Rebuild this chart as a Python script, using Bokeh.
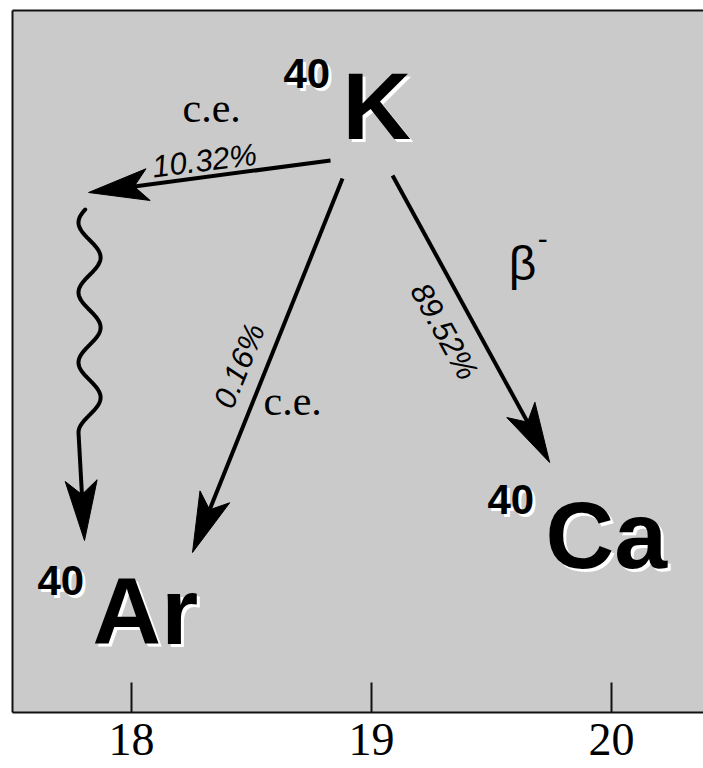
import numpy as np
from bokeh.plotting import figure
from bokeh.models import Range1d, LinearAxis, FixedTicker
from bokeh.core.properties import value
from bokeh.embed import file_html
from bokeh.resources import INLINE

# ---- data (x = atomic number Z, y = energy level in chart units) ----
tick_values = [18, 19, 20]
tick_labels = ["18", "19", "20"]

nuclide_symbol = ["K", "Ar", "Ca"]
nuclide_mass = ["40", "40", "40"]
symbol_x = [18.879, 17.8375, 19.725]
symbol_y = [574, 69, 145]
mass_x = [18.633, 17.608, 19.483]
mass_y = [625, 118, 199]

# straight decay arrows: start -> tip
arrow_x0 = [18.829, 18.879, 19.0875]
arrow_y0 = [552, 534, 537]
arrow_x1 = [17.821, 18.254, 19.742]
arrow_y1 = [520, 160, 250]

# gamma (wavy) de-excitation arrow
gamma_x = 17.825
gamma_amp = 0.046
gamma_period = 70
gamma_phase_y = 455
gamma_top = 503
gamma_wave_end = 280
gamma_tip_x = 17.804
gamma_tip_y = 172

# annotations
label_text = ["c.e.", "c.e.", "\u03b2"]
label_x = [18.2125, 18.55, 19.572]
label_y = [590, 297, 433]

pct_text = ["10.32%", "0.16%", "89.52%"]
pct_x = [18.092, 18.421, 19.158]
pct_y = [535, 302, 422]
pct_angle = [7, 68, -61]

PX_X = 240.0  # px per Z unit
HEAD_L, HEAD_W, HEAD_NOTCH = 60.0, 32.0, 14.0
BASE_FIX = 0.34  # em shift to put the alphabetic baseline on the anchor


def arrow_head(xs, ys, xt, yt):
    """Barbed head polygon at (xt, yt) pointing away from (xs, ys)."""
    sx, sy = xs * PX_X, ys
    tx, ty = xt * PX_X, yt
    dx, dy = tx - sx, ty - sy
    n = np.hypot(dx, dy)
    ux, uy = dx / n, dy / n
    px, py = -uy, ux
    pts = [
        (tx, ty),
        (tx - HEAD_L * ux + HEAD_W / 2 * px, ty - HEAD_L * uy + HEAD_W / 2 * py),
        (tx - (HEAD_L - HEAD_NOTCH) * ux, ty - (HEAD_L - HEAD_NOTCH) * uy),
        (tx - HEAD_L * ux - HEAD_W / 2 * px, ty - HEAD_L * uy - HEAD_W / 2 * py),
    ]
    hx = [p[0] / PX_X for p in pts]
    hy = [p[1] for p in pts]
    notch = (pts[2][0] / PX_X, pts[2][1])
    return hx, hy, notch


def fix(xs, ys, size, angles=None, dxp=0.0, dyp=0.0):
    if angles is None:
        angles = [0] * len(xs)
    ox, oy = [], []
    for x, y, a in zip(xs, ys, angles):
        t = np.radians(a)
        s = BASE_FIX * size
        ox.append(x + (-np.sin(t) * s + dxp) / PX_X)
        oy.append(y + np.cos(t) * s + dyp)
    return ox, oy


p = figure(width=703, height=768, output_backend="svg", toolbar_location=None,
           x_range=Range1d(17.504, 20.383), y_range=Range1d(0, 702),
           min_border_left=12, min_border_right=0, min_border_top=10,
           min_border_bottom=56)
p.background_fill_color = "#cacaca"
p.border_fill_color = "white"
p.outline_line_color = None
p.grid.visible = False
p.yaxis.visible = False

xa = p.xaxis[0]
xa.ticker = FixedTicker(ticks=tick_values)
xa.major_label_overrides = {v: t for v, t in zip(tick_values, tick_labels)}
xa.major_tick_in = 30
xa.major_tick_out = 0
xa.minor_tick_line_color = None
xa.major_tick_line_width = 2
xa.major_tick_line_color = "#111111"
xa.axis_line_width = 2
xa.axis_line_color = "#111111"
xa.major_label_text_font = "Liberation Serif"
xa.major_label_text_font_size = "46px"
xa.major_label_text_color = "black"
xa.major_label_standoff = 11

for side in ("left", "above"):
    ax = LinearAxis(ticker=FixedTicker(ticks=[]), axis_line_width=2,
                    axis_line_color="#111111", major_tick_line_color=None,
                    minor_tick_line_color=None, major_label_text_font_size="0px")
    p.add_layout(ax, side)

# straight arrows
heads_x, heads_y = [], []
for xs, ys, xt, yt in zip(arrow_x0, arrow_y0, arrow_x1, arrow_y1):
    hx, hy, notch = arrow_head(xs, ys, xt, yt)
    heads_x.append(hx)
    heads_y.append(hy)
    p.line([xs, notch[0]], [ys, notch[1]], line_color="black", line_width=4)

# wavy gamma arrow
wy = np.linspace(gamma_top, gamma_wave_end, 200)
wx = gamma_x + gamma_amp * np.cos(2 * np.pi * (wy - gamma_phase_y) / gamma_period)
hx, hy, notch = arrow_head(wx[-1], wy[-1], gamma_tip_x, gamma_tip_y)
heads_x.append(hx)
heads_y.append(hy)
p.line(list(wx) + [notch[0]], list(wy) + [notch[1]], line_color="black",
       line_width=4, line_cap="round", line_join="round")
p.patches(heads_x, heads_y, fill_color="black", line_color="black", line_width=1)

# nuclide labels with white drop shadow
SYM_FS, MASS_FS = 95, 42
sx, sy = fix(symbol_x, symbol_y, SYM_FS)
mx, my = fix(mass_x, mass_y, MASS_FS)
for col, dx, dy in (("white", 3 / PX_X, -3), ("black", 0, 0)):
    p.text(x=[v + dx for v in sx], y=[v + dy for v in sy], text=nuclide_symbol,
           text_font=value("Liberation Sans"), text_font_style="bold",
           text_font_size=f"{SYM_FS}px", text_color=col,
           text_align="left", text_baseline="alphabetic")
    p.text(x=[v + dx for v in mx], y=[v + dy for v in my], text=nuclide_mass,
           text_font=value("Liberation Sans"), text_font_style="bold",
           text_font_size=f"{MASS_FS}px", text_color=col,
           text_align="left", text_baseline="alphabetic")

# c.e. / beta labels
cx, cy = fix(label_x[:2], label_y[:2], 42)
p.text(x=cx, y=cy, text=label_text[:2],
       text_font=value("Liberation Serif"), text_font_size="42px",
       text_color="black", text_align="left", text_baseline="alphabetic")
bx, by = fix(label_x[2:], label_y[2:], 48)
p.text(x=bx, y=by, text=label_text[2:],
       text_font=value("Liberation Sans"), text_font_size="48px",
       text_color="black", text_align="left", text_baseline="alphabetic")
mnx, mny = fix([label_x[2] + 0.12], [label_y[2] + 30], 30)
p.text(x=mnx, y=mny, text=["-"],
       text_font=value("Liberation Sans"), text_font_size="30px",
       text_color="black", text_align="left", text_baseline="alphabetic")

# branching percentages
px_, py_ = fix(pct_x, pct_y, 31, pct_angle)
p.text(x=px_, y=py_, text=pct_text, angle=pct_angle, angle_units="deg",
       text_font=value("Liberation Sans"), text_font_style="italic",
       text_font_size="31px", text_color="black",
       text_align="left", text_baseline="alphabetic")

open("out.html", "w").write(file_html(p, INLINE))
